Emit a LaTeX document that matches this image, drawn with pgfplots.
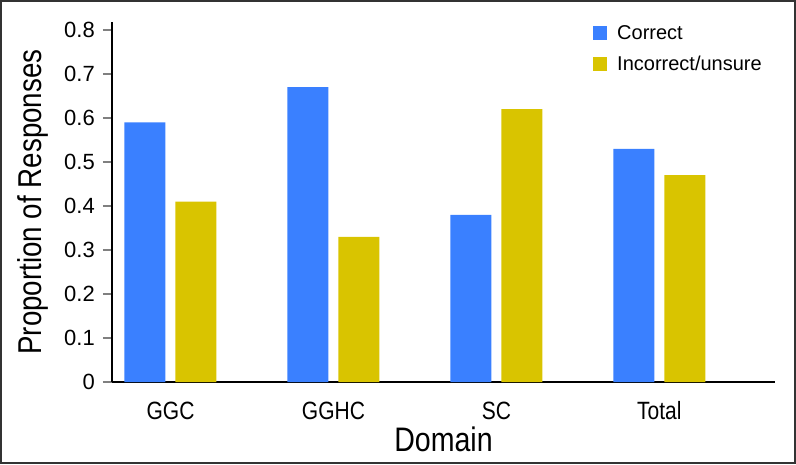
\documentclass[border=0pt]{standalone}
\usepackage{fontspec}
\setmainfont{Liberation Sans}
\newfontfamily\cond[FakeStretch=0.84]{Liberation Sans}
\usepackage{pgfplots}
\pgfplotsset{compat=1.18}
\definecolor{cblue}{HTML}{3A80FF}
\definecolor{cyell}{HTML}{D9C400}
\begin{document}
\begin{tikzpicture}
\draw[line width=2pt, color=black!80] (-111pt,-81pt) rectangle (683pt,381pt);
\begin{axis}[
  at={(0pt,0pt)}, anchor=south west,
  scale only axis,
  width=663pt, height=360pt,
  ybar=10pt, bar width=41pt,
  xmin=-0.359, xmax=3.71,
  ymin=0, ymax=0.818,
  axis lines*=left,
  axis line style={line width=1.5pt},
  xtick={0,1,2,3},
  xticklabels={GGC,GGHC,SC,Total},
  major x tick style={draw=none},
  xticklabel style={font=\cond\fontsize{25}{28}\selectfont, anchor=base, inner sep=0pt, yshift=-28pt},
  ytick={0,0.1,...,0.8},
  yticklabels={0,0.1,0.2,0.3,0.4,0.5,0.6,0.7,0.8},
  tick align=outside,
  major tick length=9pt,
  major y tick style={line width=1.3pt},
  yticklabel style={font=\fontsize{22}{26}\selectfont, anchor=east, inner sep=0pt, xshift=-8pt},
  /pgf/number format/assume math mode=true,
  xlabel={Domain},
  xlabel style={font=\cond\fontsize{34}{38}\selectfont, at={(axis description cs:0.5,0)}, anchor=base, inner sep=0pt, yshift=-69pt},
  ylabel={Proportion of Responses},
  ylabel style={font=\cond\fontsize{33}{36}\selectfont, at={(axis description cs:-0.119,0.5)}, anchor=center, inner sep=0pt},
  legend style={at={(rel axis cs:0.7255,0.9917)}, anchor=north west, draw=none, fill=none,
    font=\fontsize{20}{23}\selectfont, inner sep=0pt, row sep=15pt,
    nodes={inner sep=0pt, anchor=west}},
  legend cell align=left,
  legend image code/.code={\fill[#1] (0pt,-7pt) rectangle (14pt,7pt); \path (24pt,0pt);},
]
\addplot[fill=cblue, draw=none] coordinates {(0,0.59) (1,0.67) (2,0.38) (3,0.53)};
\addplot[fill=cyell, draw=none] coordinates {(0,0.41) (1,0.33) (2,0.62) (3,0.47)};
\legend{Correct,Incorrect/unsure}
\end{axis}
\end{tikzpicture}
\end{document}
